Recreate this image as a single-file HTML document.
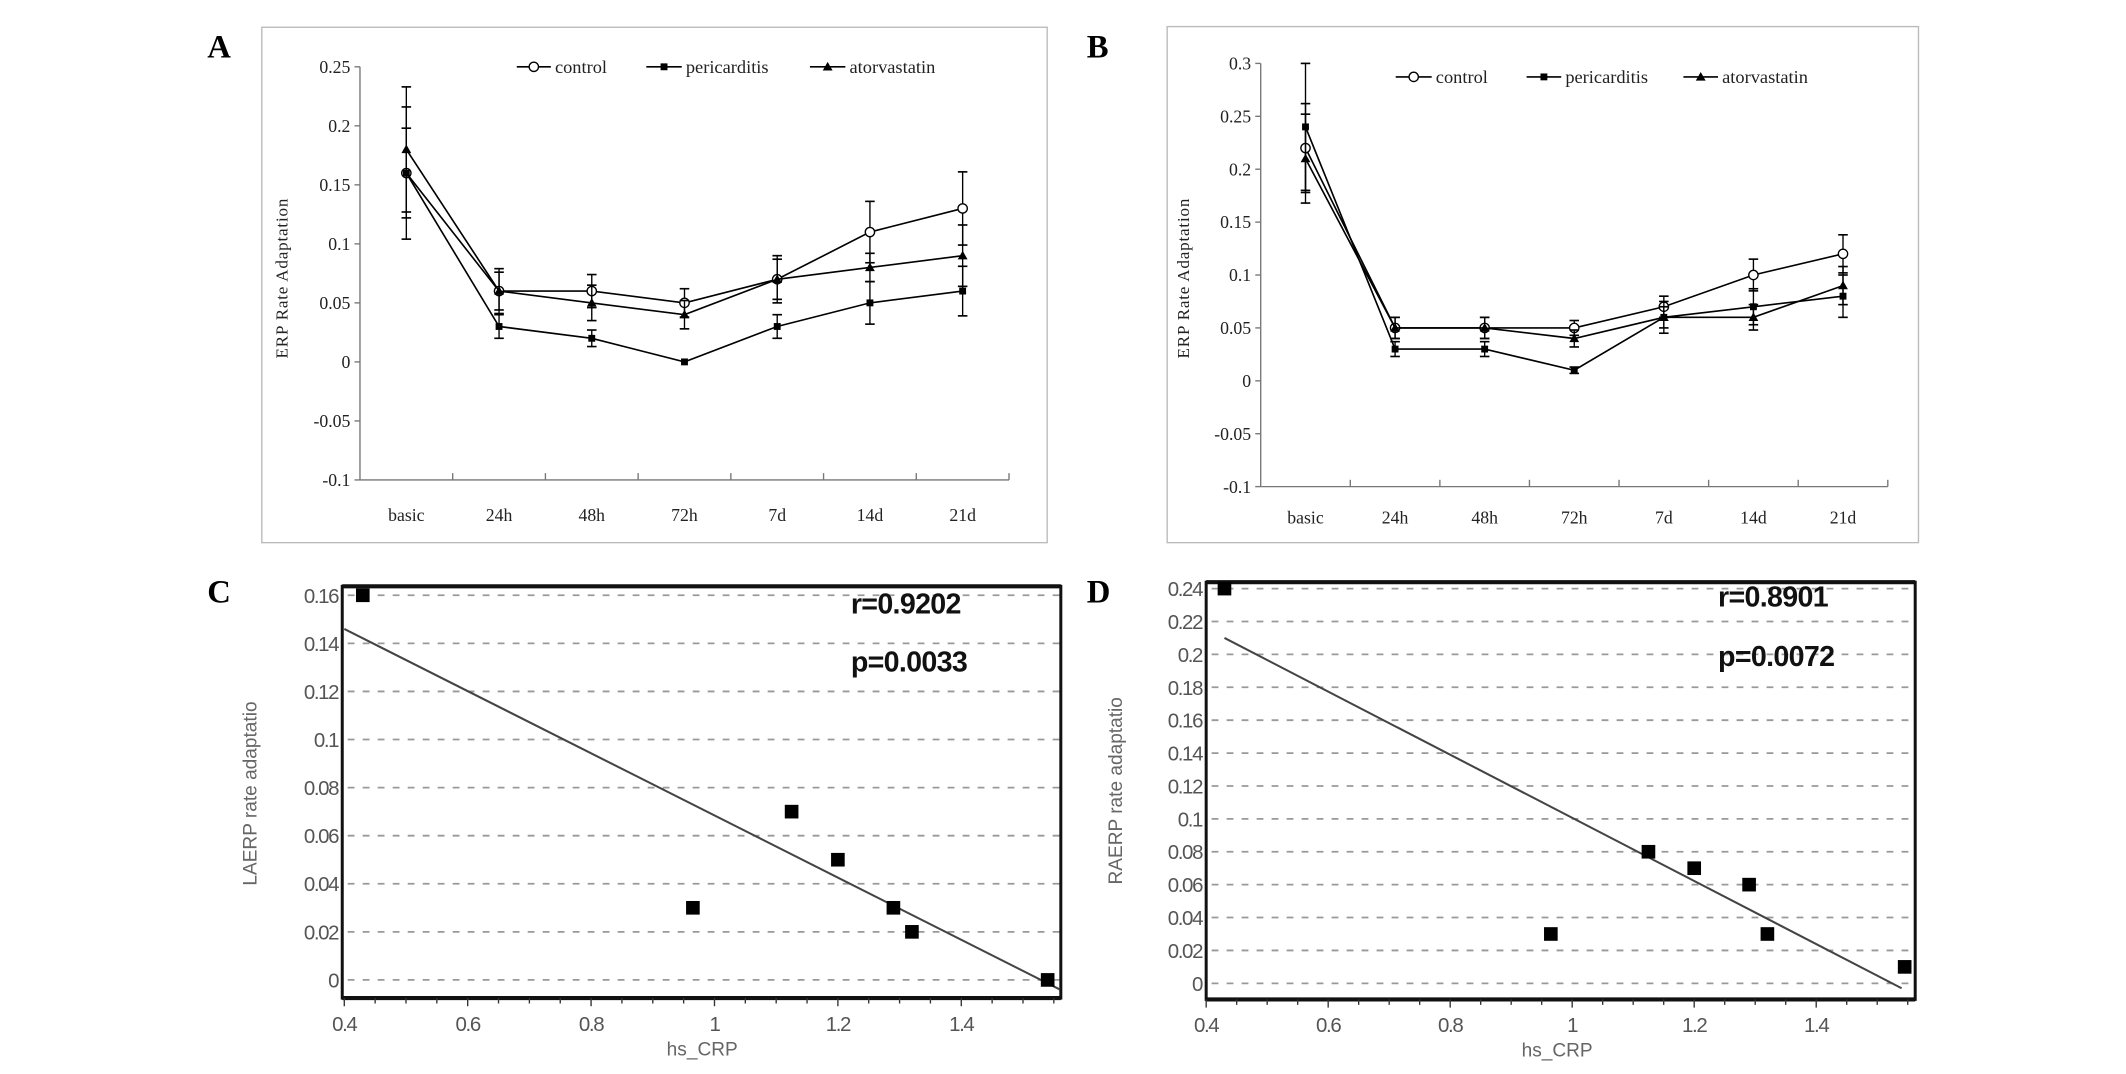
<!DOCTYPE html>
<html><head><meta charset="utf-8"><style>
html,body{margin:0;padding:0;background:#fff;}
svg{display:block;}
.serif{font-family:"Liberation Serif",serif;}
.sans{font-family:"Liberation Sans",sans-serif;}
</style></head><body>
<svg id="fig" xmlns="http://www.w3.org/2000/svg" width="2126" height="1074" viewBox="0 0 1559.2 787.7" preserveAspectRatio="none">
<rect x="0" y="0" width="1559.2" height="787.7" fill="#fff"/>
<rect x="192" y="20" width="576" height="378" fill="none" stroke="#bbb" stroke-width="1"/>
<rect x="856" y="19.5" width="551" height="378.5" fill="none" stroke="#bbb" stroke-width="1"/>
<text class="serif" x="152" y="42" font-size="24" font-weight="bold">A</text>
<text class="serif" x="797" y="42" font-size="24" font-weight="bold">B</text>
<text class="serif" x="152" y="442" font-size="24" font-weight="bold">C</text>
<text class="serif" x="797" y="442" font-size="24" font-weight="bold">D</text>
<g id="gA"></g>
<g id="gB"></g>
<g id="gC"></g>
<g id="gD"></g>
</svg>
<script>
const categories = ["basic","24h","48h","72h","7d","14d","21d"];
const seriesNames = ["control","pericarditis","atorvastatin"];
const aControl = [0.16,0.06,0.06,0.05,0.07,0.11,0.13];
const aControlErr = [0.038,0.016,0.014,0.012,0.02,0.026,0.031];
const aPeri = [0.16,0.03,0.02,0.0,0.03,0.05,0.06];
const aPeriErr = [0.056,0.01,0.007,0.0,0.01,0.018,0.021];
const aAtor = [0.18,0.06,0.05,0.04,0.07,0.08,0.09];
const aAtorErr = [0.053,0.019,0.015,0.012,0.017,0.012,0.026];
const aTicks = [0.25,0.2,0.15,0.1,0.05,0,-0.05,-0.1];
const aTickLabels = ["0.25","0.2","0.15","0.1","0.05","0","-0.05","-0.1"];
const bControl = [0.22,0.05,0.05,0.05,0.07,0.10,0.12];
const bControlErr = [0.042,0.01,0.01,0.007,0.01,0.015,0.018];
const bPeri = [0.24,0.03,0.03,0.01,0.06,0.07,0.08];
const bPeriErr = [0.06,0.007,0.007,0.003,0.015,0.017,0.02];
const bAtor = [0.21,0.05,0.05,0.04,0.06,0.06,0.09];
const bAtorErr = [0.042,0.01,0.01,0.008,0.01,0.012,0.018];
const bTicks = [0.3,0.25,0.2,0.15,0.1,0.05,0,-0.05,-0.1];
const bTickLabels = ["0.3","0.25","0.2","0.15","0.1","0.05","0","-0.05","-0.1"];
const cX = [0.43,0.965,1.125,1.2,1.29,1.32,1.54];
const cY = [0.16,0.03,0.07,0.05,0.03,0.02,0.0];
const cFit = [[0.4,0.146],[1.56,-0.004]];
const cYTicks = [0.16,0.14,0.12,0.1,0.08,0.06,0.04,0.02,0];
const cYTickLabels = ["0.16","0.14","0.12","0.1","0.08","0.06","0.04","0.02","0"];
const dX = [0.43,0.965,1.125,1.2,1.29,1.32,1.545];
const dY = [0.24,0.03,0.08,0.07,0.06,0.03,0.01];
const dFit = [[0.43,0.21],[1.54,-0.003]];
const dYTicks = [0.24,0.22,0.2,0.18,0.16,0.14,0.12,0.1,0.08,0.06,0.04,0.02,0];
const dYTickLabels = ["0.24","0.22","0.2","0.18","0.16","0.14","0.12","0.1","0.08","0.06","0.04","0.02","0"];
const xTicks = [0.4,0.6,0.8,1,1.2,1.4];
const xTickLabels = ["0.4","0.6","0.8","1","1.2","1.4"];

const NS="http://www.w3.org/2000/svg";
function mk(parent,tag,attrs,text){
  const e=document.createElementNS(NS,tag);
  for(const k in attrs) e.setAttribute(k,attrs[k]);
  if(text!==undefined) e.textContent=text;
  parent.appendChild(e); return e;
}
function marker(g,type,x,y,s){
  let m;
  if(type===0){ m=mk(g,"circle",{cx:x,cy:y,r:s*0.95,fill:"#fff",stroke:"#000","stroke-width":1}); }
  else if(type===1){ m=mk(g,"rect",{x:x-s*0.7,y:y-s*0.7,width:s*1.4,height:s*1.4,fill:"#000"}); }
  else { m=mk(g,"polygon",{points:`${x},${y-s} ${x-s},${y+s*0.75} ${x+s},${y+s*0.75}`,fill:"#000"}); }
  return m;
}
function lineChart(gid,cfg){
  const g=document.getElementById(gid);
  const X=i=>cfg.ax0+cfg.step*(i+0.5);
  const Y=v=>cfg.yTop+(cfg.vTop-v)/(cfg.vTop-cfg.vBot)*(cfg.yBot-cfg.yTop);
  let e=mk(g,"line",{x1:cfg.ax0,y1:Y(cfg.vTop),x2:cfg.ax0,y2:Y(cfg.vBot),stroke:"#777","stroke-width":1});
  
  
  e=mk(g,"line",{x1:cfg.ax0,y1:Y(cfg.vBot),x2:cfg.ax0+cfg.step*7,y2:Y(cfg.vBot),stroke:"#777","stroke-width":1});
  
  
  cfg.ticks.forEach((t,i)=>{
    mk(g,"line",{x1:cfg.ax0-4,y1:Y(t),x2:cfg.ax0,y2:Y(t),stroke:"#777"});
    const tl=mk(g,"text",{x:cfg.ax0-7,y:Y(t)+4.5,"text-anchor":"end","font-size":13,class:"serif",fill:"#222"},cfg.tickLabels[i]);
    
    
  });
  for(let i=1;i<=7;i++) mk(g,"line",{x1:cfg.ax0+cfg.step*i,y1:Y(cfg.vBot),x2:cfg.ax0+cfg.step*i,y2:Y(cfg.vBot)-5,stroke:"#777"});
  categories.forEach((c,i)=>{
    const t=mk(g,"text",{x:X(i),y:cfg.catY,"text-anchor":"middle","font-size":13,class:"serif",fill:"#222"},c);
    
    
  });
  const yt=mk(g,"text",{x:0,y:0,transform:`translate(${cfg.titleX},${cfg.titleY}) rotate(-90)`,"text-anchor":"middle","font-size":12.5,class:"serif",fill:"#222","letter-spacing":"0.6"},"ERP Rate Adaptation");
  
  
  cfg.series.forEach((s,si)=>{
    const sg=mk(g,"g",{});
    
    
    mk(sg,"polyline",{points:s.v.map((v,i)=>X(i)+","+Y(v)).join(" "),fill:"none",stroke:"#000","stroke-width":1.2});
    s.v.forEach((v,i)=>{
      const er=s.e[i];
      if(er>0){
        mk(sg,"line",{x1:X(i),y1:Y(v+er),x2:X(i),y2:Y(v-er),stroke:"#000","stroke-width":1});
        mk(sg,"line",{x1:X(i)-3.5,y1:Y(v+er),x2:X(i)+3.5,y2:Y(v+er),stroke:"#000","stroke-width":1.2});
        mk(sg,"line",{x1:X(i)-3.5,y1:Y(v-er),x2:X(i)+3.5,y2:Y(v-er),stroke:"#000","stroke-width":1.2});
      }
    });
    s.v.forEach((v,i)=>{
      const m=marker(sg,si,X(i),Y(v),3.6);
      
      
    });
  });
  cfg.legend.forEach((L,si)=>{
    const lg=mk(g,"g",{});
    
    
    mk(lg,"line",{x1:L[0],y1:cfg.legY,x2:L[1],y2:cfg.legY,stroke:"#000","stroke-width":1.2});
    marker(lg,si,(L[0]+L[1])/2,cfg.legY,3.6);
    mk(lg,"text",{x:L[1]+3,y:cfg.legY+4.5,"font-size":13.5,class:"serif",fill:"#222"},seriesNames[si]);
  });
}
lineChart("gA",{ax0:264,step:68,yTop:49,yBot:352,vTop:0.25,vBot:-0.1,ticks:aTicks,tickLabels:aTickLabels,catY:382,titleX:211,titleY:204,
  series:[{v:aControl,e:aControlErr},{v:aPeri,e:aPeriErr},{v:aAtor,e:aAtorErr}],
  legY:49,legend:[[379,404],[474,500],[594,620]]});
lineChart("gB",{ax0:924.6,step:65.7,yTop:46.5,yBot:356.9,vTop:0.3,vBot:-0.1,ticks:bTicks,tickLabels:bTickLabels,catY:384,titleX:872,titleY:204,
  series:[{v:bControl,e:bControlErr},{v:bPeri,e:bPeriErr},{v:bAtor,e:bAtorErr}],
  legY:56.4,legend:[[1023.6,1050],[1119.6,1145],[1234.6,1260]]});

function scatter(gid,cfg){
  const g=document.getElementById(gid);
  const X=v=>cfg.x0+(v-0.4)/1.0*(cfg.x14-cfg.x0);
  const Y=v=>cfg.y0+(v-cfg.yTopV)/(0-cfg.yTopV)*(cfg.y0b-cfg.y0);
  cfg.yTicks.forEach((t,i)=>{
    const gl=mk(g,"line",{x1:cfg.bx0+4,y1:Y(t),x2:cfg.bx1,y2:Y(t),stroke:"#999","stroke-width":1.3,"stroke-dasharray":"5 6"});
    
    
    const tl=mk(g,"text",{x:cfg.bx0-3,y:Y(t)+5.5,"text-anchor":"end","font-size":15,class:"sans",fill:"#555","letter-spacing":"-1"},cfg.yLabels[i]);
    
    
  });
  const b=mk(g,"rect",{x:cfg.bx0,y:cfg.by0,width:cfg.bx1-cfg.bx0,height:cfg.by1-cfg.by0,fill:"none",stroke:"#111","stroke-width":2.2});
  
  
  mk(g,"line",{x1:cfg.bx0,y1:cfg.by0,x2:cfg.bx1,y2:cfg.by0,stroke:"#111","stroke-width":3});
  mk(g,"line",{x1:cfg.bx0,y1:cfg.by1,x2:cfg.bx1,y2:cfg.by1,stroke:"#111","stroke-width":3});
  for(let v=0.4;v<=1.56;v+=0.05){
    const major=Math.abs(Math.round(v*5)-v*5)<1e-6;
    mk(g,"line",{x1:X(v),y1:cfg.by1,x2:X(v),y2:cfg.by1+(major?6:4),stroke:"#333","stroke-width":1});
  }
  xTicks.forEach((t,i)=>{
    const tl=mk(g,"text",{x:X(t),y:cfg.by1+24,"text-anchor":"middle","font-size":15,class:"sans",fill:"#555","letter-spacing":"-1"},xTickLabels[i]);
    
    
  });
  const xt=mk(g,"text",{x:cfg.titleXx,y:cfg.by1+42,"text-anchor":"middle","font-size":14,class:"sans",fill:"#666"},"hs_CRP");
  
  
  const yt=mk(g,"text",{x:0,y:0,transform:`translate(${cfg.titleYx},${cfg.titleYy}) rotate(-90)`,"text-anchor":"middle","font-size":14,class:"sans",fill:"#666"},cfg.yTitle);
  
  
  const fl=mk(g,"line",{x1:X(cfg.fit[0][0]),y1:Y(cfg.fit[0][1]),x2:X(cfg.fit[1][0]),y2:Y(cfg.fit[1][1]),stroke:"#444","stroke-width":1.5});
  
  
  cfg.xs.forEach((xv,i)=>{
    const p=mk(g,"rect",{x:X(xv)-5,y:Y(cfg.ys[i])-5,width:10,height:10,fill:"#000"});
    
    
  });
  const r=mk(g,"text",{x:cfg.annX,y:cfg.rY,"font-size":21,"font-weight":"bold",class:"sans",fill:"#111","letter-spacing":"-0.5"},cfg.r);
  
  
  const p=mk(g,"text",{x:cfg.annX,y:cfg.pY,"font-size":21,"font-weight":"bold",class:"sans",fill:"#111","letter-spacing":"-0.5"},cfg.p);
  
  
}
scatter("gC",{x0:252.5,x14:705,y0:436.6,y0b:718.7,yTopV:0.16,bx0:251,bx1:778,by0:430,by1:732,
  yTicks:cYTicks,yLabels:cYTickLabels,xs:cX,ys:cY,fit:cFit,titleXx:515,titleYx:188,titleYy:582,yTitle:"LAERP rate adaptatio",
  annX:624,rY:450,pY:492.5,r:"r=0.9202",p:"p=0.0033"});
scatter("gD",{x0:884.6,x14:1332,y0:431.7,y0b:721.2,yTopV:0.24,bx0:884.6,bx1:1404.6,by0:427,by1:733,
  yTicks:dYTicks,yLabels:dYTickLabels,xs:dX,ys:dY,fit:dFit,titleXx:1142,titleYx:823,titleYy:580,yTitle:"RAERP rate adaptatio",
  annX:1260,rY:445,pY:488.4,r:"r=0.8901",p:"p=0.0072"});
</script>
</body></html>
